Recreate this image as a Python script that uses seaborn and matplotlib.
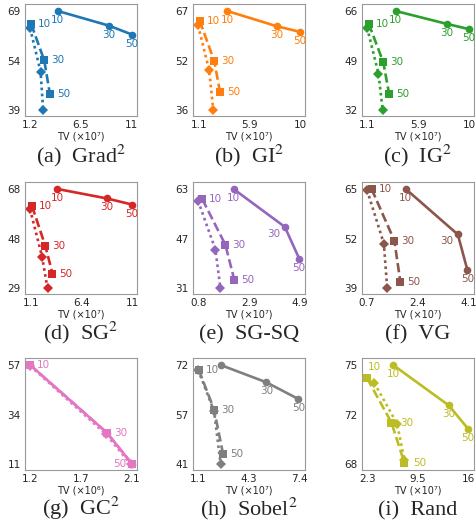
import numpy as np
import seaborn as sns
import matplotlib
matplotlib.use("Agg")
import matplotlib.pyplot as plt

# series order in every panel: solid/circle, dashed/square, dotted/diamond
steps = ["10", "30", "50"]

grad_tv = [[3.86, 8.76, 11.0], [1.3, 2.56, 3.1], [1.2, 2.21, 2.46]]
grad_acc = [[69.0, 64.6, 61.9], [65.1, 54.1, 44.1], [63.8, 50.7, 39.0]]
gi_tv = [[3.6, 8.0, 10.0], [1.19, 2.48, 2.97], [1.05, 2.02, 2.39]]
gi_acc = [[67.0, 62.2, 60.5], [64.0, 51.3, 41.8], [62.5, 48.6, 36.0]]
ig_tv = [[3.57, 8.04, 10.0], [1.21, 2.49, 3.0], [1.07, 2.07, 2.44]]
ig_acc = [[66.0, 61.6, 59.8], [61.7, 48.5, 37.7], [60.3, 44.6, 32.0]]
sg_tv = [[3.66, 8.51, 11.0], [1.16, 2.47, 3.18], [0.97, 2.15, 2.69]]
sg_acc = [[68.0, 64.3, 61.9], [61.4, 45.7, 34.8], [60.1, 41.5, 29.0]]
sgsq_tv = [[2.22, 4.29, 4.87], [0.96, 1.89, 2.25], [0.79, 1.49, 1.69]]
sgsq_acc = [[63.0, 50.8, 40.6], [59.7, 45.1, 33.8], [59.2, 43.5, 31.2]]
vg_tv = [[1.99, 3.73, 4.05], [0.85, 1.61, 1.81], [0.7, 1.26, 1.37]]
vg_acc = [[65.0, 53.1, 43.8], [65.0, 51.5, 40.8], [64.7, 50.7, 39.2]]
gc_tv = [[1.2, 1.88, 2.1], [1.2, 1.88, 2.1], [1.2, 1.87, 2.09]]
gc_acc = [[57.0, 25.6, 11.3], [57.0, 25.6, 11.3], [56.6, 25.0, 11.0]]
sobel_tv = [[2.49, 5.32, 7.3], [1.14, 2.09, 2.65], [1.1, 2.09, 2.49]]
sobel_acc = [[72.0, 66.6, 61.4], [70.5, 58.1, 44.1], [70.5, 57.6, 41.2]]
rand_tv = [[5.8, 13.3, 15.9], [2.3, 5.58, 7.33], [3.26, 6.33, 7.33]]
rand_acc = [[75.0, 72.15, 70.5], [74.07, 70.94, 68.1], [73.74, 70.87, 68.3]]

titles = ["(a)  Grad$^2$", "(b)  GI$^2$", "(c)  IG$^2$", "(d)  SG$^2$", "(e)  SG-SQ",
          "(f)  VG", "(g)  GC$^2$", "(h)  Sobel$^2$", "(i)  Rand"]
xtick_labels = [["1.2", "6.5", "11"], ["1.1", "5.9", "10"], ["1.1", "5.9", "10"],
                ["1.1", "6.4", "11"], ["0.8", "2.9", "4.9"], ["0.7", "2.4", "4.1"],
                ["1.2", "1.7", "2.1"], ["1.1", "4.3", "7.4"], ["2.3", "9.5", "16"]]
ytick_labels = [["39", "54", "69"], ["36", "52", "67"], ["32", "49", "66"],
                ["29", "48", "68"], ["31", "47", "63"], ["39", "52", "65"],
                ["11", "34", "57"], ["41", "57", "72"], ["68", "72", "75"]]
xlabels = ["TV (×10⁷)"] * 6 + ["TV (×10⁶)", "TV (×10⁷)", "TV (×10⁷)"]
panel_colors = sns.color_palette("tab10")[:9]

all_tv = [grad_tv, gi_tv, ig_tv, sg_tv, sgsq_tv, vg_tv, gc_tv, sobel_tv, rand_tv]
all_acc = [grad_acc, gi_acc, ig_acc, sg_acc, sgsq_acc, vg_acc, gc_acc, sobel_acc, rand_acc]

sns.set_theme(style="white")
plt.rcParams["mathtext.fontset"] = "stix"

W, H = 476, 522
fig = plt.figure(figsize=(W / 100, H / 100), dpi=100)
col_left = [25, 193, 362]
row_top = [4, 182, 358]
caption_gap = [46, 45, 45]
aw, ah = 112, 112

styles = [("-", "o"), ((0, (3.5, 1.5)), "s"), ((0, (1, 1.3)), "D")]

for k in range(9):
    r, c = divmod(k, 3)
    ax = fig.add_axes([col_left[c] / W, 1 - (row_top[r] + ah) / H, aw / W, ah / H])
    col = panel_colors[k]
    tv, acc = all_tv[k], all_acc[k]
    for s in range(3):
        ls, mk = styles[s]
        sns.lineplot(x=tv[s], y=acc[s], ax=ax, sort=False, color=col, linestyle=ls,
                     linewidth=1.9, marker=mk, markersize=5.5 if mk != "D" else 5,
                     markeredgewidth=0)
    # labels on circles (below) and squares (right)
    for i, lab in enumerate(steps):
        if k != 6 and not (k == 7 and i == 0):
            dx, dy, ha = 0, -4, "center"
            if (k in (4, 5)) and i == 1:
                dx, dy, ha = -5, -2, "right"
            ax.annotate(lab, (tv[0][i], acc[0][i]), xytext=(dx, dy), textcoords="offset pixels",
                        ha=ha, va="top", fontsize=7.5, color=col)
        dx, ha, va, dy = 7, "left", "center", 0
        if k == 6 and i == 2:
            dx, ha = -6, "right"
        if k == 8 and i == 0:
            dx, dy, ha, va = 1, 6, "left", "bottom"
        if k == 8 and i > 0:
            dx = 9
        ax.annotate(lab, (tv[1][i], acc[1][i]), xytext=(dx, dy), textcoords="offset pixels",
                    ha=ha, va=va, fontsize=7.5, color=col)

    xs = np.concatenate(tv)
    ys = np.concatenate(acc)
    x0, x1 = float(xtick_labels[k][0]), float(xtick_labels[k][2])
    y0, y1 = float(ytick_labels[k][0]), float(ytick_labels[k][2])
    ax.set_xticks(np.linspace(x0, x1, 3))
    ax.set_xticklabels(xtick_labels[k])
    ax.set_yticks(np.linspace(y0, y1, 3))
    ax.set_yticklabels(ytick_labels[k])
    xpad = (x1 - x0) * 0.05
    ypad = (y1 - y0) * 0.07
    ax.set_xlim(min(xs.min(), x0) - xpad, max(xs.max(), x1) + xpad)
    ax.set_ylim(min(ys.min(), y0) - ypad * 0.8, max(ys.max(), y1) + ypad)
    ax.tick_params(labelsize=7.5, length=2, pad=1, color="0.4")
    ax.set_xlabel(xlabels[k], fontsize=7, labelpad=1, color="0.15")
    ax.set_ylabel("")
    for sp in ax.spines.values():
        sp.set_color("0.6")
        sp.set_linewidth(0.8)
    fig.text((col_left[c] + aw / 2) / W, 1 - (row_top[r] + ah + caption_gap[r]) / H, titles[k],
             ha="center", va="baseline", fontsize=16, family="Liberation Serif")

fig.savefig("out.png", dpi=100)
